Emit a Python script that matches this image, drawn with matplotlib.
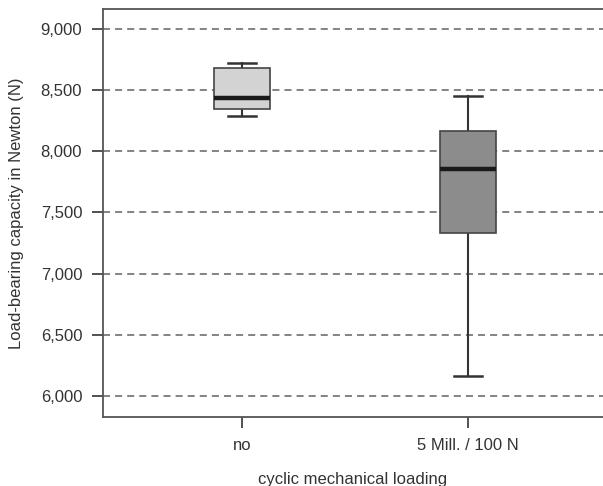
import matplotlib
matplotlib.use("Agg")
import matplotlib.pyplot as plt

plt.rcParams['font.family'] = ['Liberation Sans', 'DejaVu Sans']

groups = ['no', '5 Mill. / 100 N']
whisker_low = [8292, 6163]
q1 = [8344, 7330]
median = [8433, 7853]
q3 = [8679, 8166]
whisker_high = [8725, 8452]
box_colors = ['#d3d3d3', '#8c8c8c']
yticks = [6000, 6500, 7000, 7500, 8000, 8500, 9000]

stats = []
for i, g in enumerate(groups):
    stats.append({'label': g, 'whislo': whisker_low[i], 'q1': q1[i], 'med': median[i],
                  'q3': q3[i], 'whishi': whisker_high[i], 'fliers': []})

fig = plt.figure(figsize=(6.03, 4.86), dpi=100)
ax = fig.add_axes([0.1708, 0.142, 0.8292, 0.8395])

bp = ax.bxp(stats, positions=[1, 2], widths=0.25, patch_artist=True, showfliers=False,
            boxprops=dict(edgecolor='#444444', linewidth=1.2),
            whiskerprops=dict(color='#333333', linewidth=1.5),
            capprops=dict(color='#333333', linewidth=1.8),
            medianprops=dict(color='#1a1a1a', linewidth=3.2))
for patch, c in zip(bp['boxes'], box_colors):
    patch.set_facecolor(c)
    patch.set_zorder(3)
for m in bp['medians']:
    m.set_zorder(4)

ax.set_xlim(0.385, 2.597)
ax.set_ylim(5828, 9163)
ax.set_yticks(yticks)
ax.set_yticklabels([f'{v:,}' for v in yticks])
ax.yaxis.grid(True, linestyle=(0, (3.9, 2.8)), color='#7a7a7a', linewidth=1.3)
ax.set_axisbelow(True)

for s in ['left', 'bottom', 'top']:
    ax.spines[s].set_color('#555555')
    ax.spines[s].set_linewidth(1.3)
ax.spines['right'].set_visible(False)

ax.tick_params(axis='both', colors='#444444', labelcolor='#333333', labelsize=12,
               width=1.3, length=8)
ax.tick_params(axis='y', pad=7)
ax.tick_params(axis='x', pad=7)

ax.set_xlabel('cyclic mechanical loading', fontsize=12, color='#333333', labelpad=14)
ax.set_ylabel('Load-bearing capacity in Newton (N)', fontsize=12, color='#333333', labelpad=12)

fig.savefig('out.png', dpi=100)
